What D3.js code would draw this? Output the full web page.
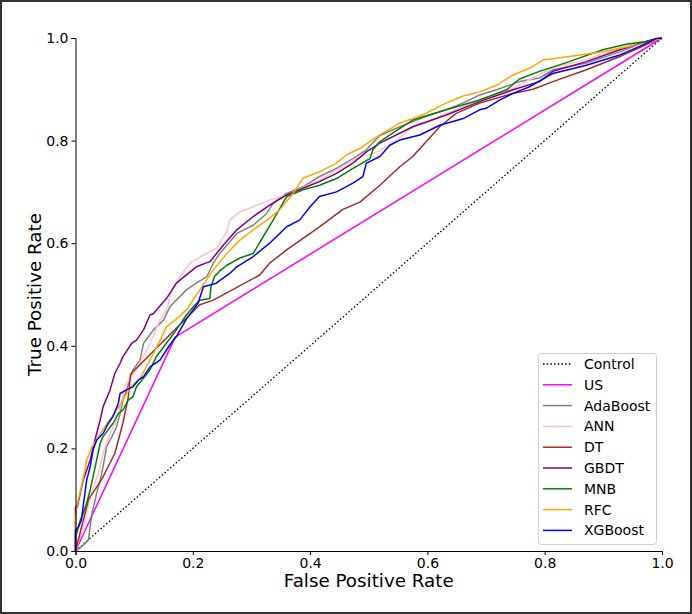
<!DOCTYPE html>
<html>
<head>
<meta charset="utf-8">
<script src="https://cdn.jsdelivr.net/npm/d3@7"></script>
<style>
  html, body { margin: 0; padding: 0; background: #fff; }
  svg { display: block; font-family: "DejaVu Sans", sans-serif; }
</style>
</head>
<body>
<svg id="chart" width="692" height="614"></svg>
<script>
// ---- data (false positive rate, true positive rate) ----
const seriesNames = ["Control", "US", "AdaBoost", "ANN", "DT", "GBDT", "MNB", "RFC", "XGBoost"];
const tickValues = [0, 0.2, 0.4, 0.6, 0.8, 1.0];

const controlPts = [[0, 0], [1, 1]];
const usPts = [[0, 0], [0.17, 0.417], [1, 1]];
const adaPts = [[0,0],[0.01,0.008],[0.022,0.021],[0.025,0.047],[0.028,0.073],[0.036,0.112],[0.042,0.138],[0.047,0.164],[0.053,0.203],[0.062,0.223],[0.07,0.242],[0.076,0.268],[0.081,0.294],[0.087,0.314],[0.098,0.353],[0.11,0.372],[0.116,0.405],[0.133,0.431],[0.15,0.45],[0.161,0.476],[0.189,0.509],[0.206,0.522],[0.224,0.535],[0.235,0.561],[0.246,0.58],[0.258,0.596],[0.275,0.619],[0.303,0.635],[0.326,0.658],[0.337,0.678],[0.36,0.697],[0.388,0.71],[0.416,0.73],[0.445,0.746],[0.473,0.765],[0.496,0.782],[0.519,0.81],[0.553,0.827],[0.575,0.837],[0.604,0.85],[0.632,0.86],[0.666,0.876],[0.689,0.889],[0.718,0.899],[0.757,0.915],[0.791,0.922],[0.814,0.938],[0.871,0.951],[0.928,0.973],[0.973,0.993],[1,1]];
const annPts = [[0,0],[0.008,0.028],[0.016,0.06],[0.025,0.106],[0.039,0.151],[0.047,0.19],[0.059,0.229],[0.07,0.255],[0.079,0.294],[0.084,0.32],[0.087,0.327],[0.104,0.353],[0.11,0.366],[0.127,0.405],[0.144,0.45],[0.155,0.47],[0.165,0.51],[0.178,0.535],[0.195,0.561],[0.218,0.577],[0.24,0.59],[0.258,0.622],[0.263,0.645],[0.28,0.661],[0.303,0.671],[0.331,0.684],[0.36,0.694],[0.416,0.723],[0.473,0.762],[0.519,0.78],[0.547,0.801],[0.575,0.827],[0.604,0.837],[0.632,0.853],[0.689,0.879],[0.746,0.902],[0.814,0.942],[0.871,0.958],[0.928,0.98],[1,1]];
const dtPts = [[0,0],[0.022,0.10],[0.045,0.14],[0.067,0.19],[0.081,0.25],[0.09,0.30],[0.094,0.345],[0.212,0.48],[0.235,0.489],[0.314,0.538],[0.331,0.561],[0.36,0.587],[0.416,0.632],[0.456,0.666],[0.485,0.68],[0.519,0.713],[0.553,0.749],[0.575,0.769],[0.621,0.827],[0.649,0.853],[0.689,0.873],[0.746,0.892],[0.78,0.90],[0.814,0.915],[0.871,0.938],[0.928,0.964],[0.984,0.993],[1,1]];
const gbdtPts = [[0,0],[0,0.086],[0.003,0.086],[0.013,0.138],[0.025,0.177],[0.033,0.216],[0.042,0.255],[0.047,0.281],[0.059,0.314],[0.067,0.346],[0.076,0.366],[0.081,0.379],[0.096,0.405],[0.104,0.411],[0.116,0.431],[0.127,0.46],[0.133,0.463],[0.155,0.492],[0.172,0.522],[0.178,0.528],[0.206,0.554],[0.229,0.564],[0.252,0.596],[0.275,0.626],[0.303,0.652],[0.331,0.674],[0.36,0.694],[0.388,0.707],[0.416,0.72],[0.445,0.736],[0.473,0.756],[0.496,0.778],[0.519,0.795],[0.575,0.827],[0.632,0.85],[0.689,0.876],[0.746,0.899],[0.791,0.915],[0.814,0.935],[0.871,0.954],[0.928,0.977],[0.984,0.997],[1,1]];
const mnbPts = [[0,0],[0,0.03],[0.002,0.034],[0.008,0.06],[0.013,0.073],[0.019,0.093],[0.025,0.119],[0.03,0.145],[0.036,0.177],[0.042,0.21],[0.047,0.223],[0.064,0.249],[0.073,0.268],[0.081,0.275],[0.09,0.294],[0.098,0.301],[0.104,0.32],[0.113,0.333],[0.127,0.353],[0.138,0.379],[0.155,0.405],[0.172,0.431],[0.187,0.457],[0.201,0.476],[0.212,0.489],[0.229,0.492],[0.231,0.515],[0.237,0.535],[0.246,0.546],[0.258,0.557],[0.28,0.571],[0.303,0.58],[0.32,0.613],[0.337,0.645],[0.36,0.691],[0.388,0.704],[0.416,0.713],[0.445,0.726],[0.473,0.746],[0.502,0.765],[0.507,0.782],[0.519,0.798],[0.553,0.824],[0.575,0.84],[0.632,0.86],[0.689,0.879],[0.735,0.899],[0.757,0.92],[0.791,0.935],[0.842,0.954],[0.899,0.977],[0.939,0.988],[0.973,0.993],[1,1]];
const rfcPts = [[0,0],[0,0.06],[0.002,0.086],[0.01,0.125],[0.016,0.158],[0.019,0.177],[0.028,0.203],[0.039,0.223],[0.05,0.242],[0.062,0.262],[0.076,0.285],[0.087,0.307],[0.096,0.322],[0.11,0.336],[0.133,0.385],[0.144,0.41],[0.155,0.437],[0.172,0.452],[0.189,0.47],[0.212,0.509],[0.235,0.548],[0.258,0.58],[0.28,0.606],[0.303,0.626],[0.331,0.649],[0.348,0.665],[0.371,0.697],[0.388,0.727],[0.416,0.739],[0.445,0.756],[0.462,0.772],[0.485,0.785],[0.519,0.811],[0.553,0.834],[0.592,0.85],[0.632,0.873],[0.661,0.887],[0.689,0.895],[0.718,0.908],[0.746,0.928],[0.774,0.941],[0.797,0.957],[0.842,0.964],[0.899,0.973],[0.928,0.98],[0.973,0.99],[1,1]];
const xgbPts = [[0,0],[0,0.04],[0.005,0.047],[0.01,0.06],[0.013,0.086],[0.016,0.112],[0.019,0.138],[0.025,0.164],[0.03,0.197],[0.036,0.216],[0.047,0.229],[0.056,0.249],[0.064,0.262],[0.073,0.288],[0.076,0.307],[0.087,0.314],[0.098,0.32],[0.107,0.333],[0.116,0.34],[0.127,0.359],[0.144,0.372],[0.161,0.402],[0.172,0.418],[0.189,0.452],[0.209,0.483],[0.218,0.515],[0.24,0.522],[0.263,0.541],[0.275,0.554],[0.303,0.574],[0.331,0.6],[0.36,0.632],[0.382,0.645],[0.4,0.671],[0.416,0.691],[0.445,0.7],[0.473,0.717],[0.49,0.73],[0.496,0.756],[0.519,0.769],[0.536,0.791],[0.553,0.801],[0.587,0.811],[0.621,0.83],[0.661,0.843],[0.689,0.86],[0.7,0.863],[0.723,0.879],[0.746,0.892],[0.774,0.905],[0.814,0.931],[0.871,0.947],[0.928,0.967],[0.967,0.986],[0.99,0.999],[1,1]];

const seriesPts = [controlPts, usPts, adaPts, annPts, dtPts, gbdtPts, mnbPts, rfcPts, xgbPts];
const seriesColors = ["#000000", "#ff00ff", "#808080", "#ffc0cb", "#a52a2a", "#800080", "#008000", "#ffa500", "#0000ff"];

// ---- layout ----
const svg = d3.select("#chart");
const W = 692, H = 614;
const mLeft = 75.5, mRight = 662, mTop = 38, mBottom = 551;

svg.append("rect").attr("x", 1).attr("y", 1).attr("width", W - 2).attr("height", H - 2)
  .attr("fill", "#fff").attr("stroke", "#333").attr("stroke-width", 2);

const x = d3.scaleLinear().domain([0, 1]).range([mLeft, mRight]);
const y = d3.scaleLinear().domain([0, 1]).range([mBottom, mTop]);

const line = d3.line().x(d => x(d[0])).y(d => y(d[1]));

const plot = svg.append("g");
seriesPts.forEach((pts, i) => {
  plot.append("path")
    .datum(pts)
    .attr("d", line)
    .attr("fill", "none")
    .attr("stroke", seriesColors[i])
    .attr("stroke-width", i === 0 ? 1.3 : 1.5)
    .attr("stroke-dasharray", i === 0 ? "1.5,2.2" : null)
    .attr("stroke-linejoin", "round");
});

// axes
const fmt = d3.format(".1f");
const xAxis = svg.append("g").attr("transform", `translate(0,${mBottom})`)
  .call(d3.axisBottom(x).tickValues(tickValues).tickFormat(fmt).tickSize(4).tickPadding(3));
const yAxis = svg.append("g").attr("transform", `translate(${mLeft},0)`)
  .call(d3.axisLeft(y).tickValues(tickValues).tickFormat(fmt).tickSize(4).tickPadding(3));
[xAxis, yAxis].forEach(a => {
  a.selectAll("text").attr("font-size", 14).attr("font-family", "DejaVu Sans, sans-serif").attr("fill", "#000");
  a.selectAll("line").attr("stroke", "#000");
  a.select(".domain").attr("stroke", "#000");
});

svg.append("text").attr("x", (mLeft + mRight) / 2).attr("y", 587)
  .attr("text-anchor", "middle").attr("font-size", 18.3).text("False Positive Rate");
svg.append("text").attr("transform", `translate(41,${(mTop + mBottom) / 2}) rotate(-90)`)
  .attr("text-anchor", "middle").attr("font-size", 18.3).text("True Positive Rate");

// legend
const lg = svg.append("g");
lg.append("rect").attr("x", 538.5).attr("y", 353.5).attr("width", 118).attr("height", 191)
  .attr("rx", 3).attr("fill", "#fff").attr("fill-opacity", 0.8)
  .attr("stroke", "#d0d0d0").attr("stroke-width", 1);
seriesNames.forEach((name, i) => {
  const cy = 364 + i * 20.8;
  lg.append("line").attr("x1", 543).attr("x2", 572).attr("y1", cy).attr("y2", cy)
    .attr("stroke", seriesColors[i]).attr("stroke-width", i === 0 ? 1.3 : 1.5)
    .attr("stroke-dasharray", i === 0 ? "1.5,2.2" : null);
  lg.append("text").attr("x", 584).attr("y", cy + 5).attr("font-size", 14).text(name);
});
</script>
</body>
</html>
